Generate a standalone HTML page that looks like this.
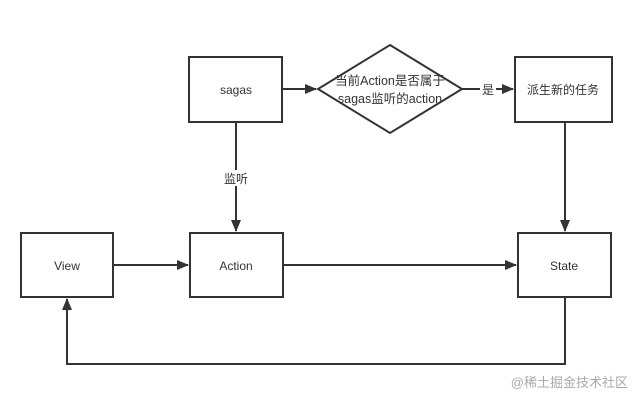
<!DOCTYPE html>
<html><head><meta charset="utf-8"><style>
html,body{margin:0;padding:0;background:#fff}
svg text{font-family:"Liberation Sans","Noto Sans CJK SC",sans-serif;fill:#333;font-size:12px}
</style></head><body>
<svg width="640" height="402" viewBox="0 0 640 402">
<defs><marker id="a" markerWidth="12" markerHeight="10" refX="11" refY="5" orient="auto" markerUnits="userSpaceOnUse"><path d="M0,0 L12,5 L0,10 z" fill="#333"/></marker></defs>
<g fill="#fff" stroke="#333" stroke-width="2">
<rect x="189" y="57" width="93" height="65"/>
<polygon points="390,45 462,89 390,133 318,89"/>
<rect x="515" y="57" width="97" height="65"/>
<rect x="21" y="233" width="92" height="64"/>
<rect x="190" y="233" width="93" height="64"/>
<rect x="518" y="233" width="93" height="64"/>
</g>
<g stroke="#333" stroke-width="2" fill="none">
<line x1="282" y1="89" x2="316" y2="89" marker-end="url(#a)"/>
<line x1="462" y1="89" x2="513" y2="89" marker-end="url(#a)"/>
<line x1="236" y1="122" x2="236" y2="231" marker-end="url(#a)"/>
<line x1="565" y1="122" x2="565" y2="231" marker-end="url(#a)"/>
<line x1="113" y1="265" x2="188" y2="265" marker-end="url(#a)"/>
<line x1="283" y1="265" x2="516" y2="265" marker-end="url(#a)"/>
<polyline points="565,297 565,364 67,364 67,299" marker-end="url(#a)"/>
</g>
<rect x="480" y="82" width="16" height="15" fill="#fff"/>
<rect x="222" y="170" width="28" height="16" fill="#fff"/>
<text x="236" y="94" text-anchor="middle">sagas</text>
<text x="390" y="85" text-anchor="middle" style="font-size:12.5px">当前Action是否属于</text>
<text x="390" y="103" text-anchor="middle" style="font-size:12.5px">sagas监听的action</text>
<text x="488" y="94" text-anchor="middle">是</text>
<text x="563" y="94" text-anchor="middle">派生新的任务</text>
<text x="236" y="183" text-anchor="middle">监听</text>
<text x="67" y="270" text-anchor="middle">View</text>
<text x="236" y="270" text-anchor="middle">Action</text>
<text x="564" y="270" text-anchor="middle">State</text>
<text x="628" y="387" text-anchor="end" style="fill:#aaa;font-size:13px">@稀土掘金技术社区</text>
</svg>
</body></html>
